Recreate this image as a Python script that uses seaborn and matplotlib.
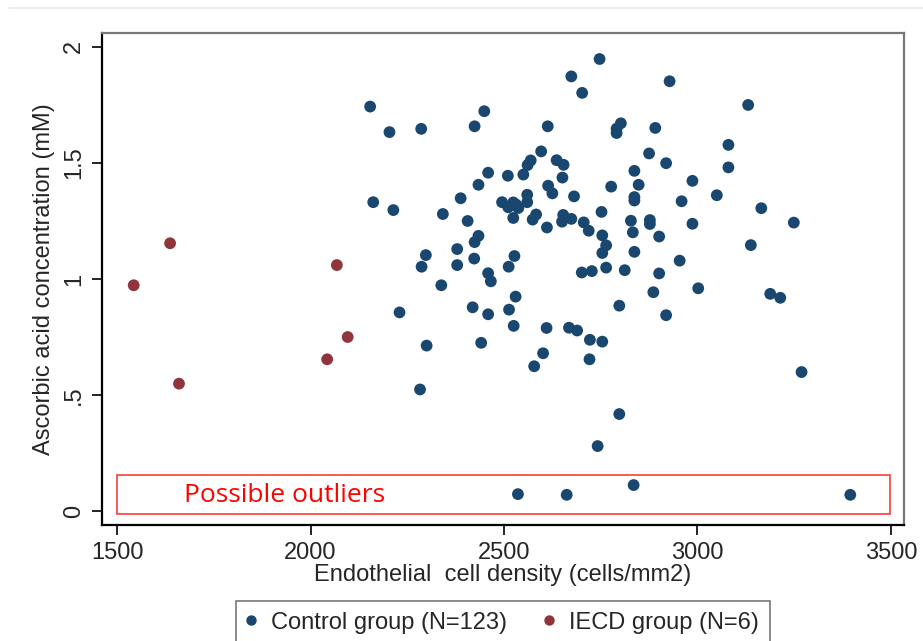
import numpy as np
import pandas as pd
import matplotlib
matplotlib.use('Agg')
import matplotlib.pyplot as plt
import seaborn as sns
from matplotlib.lines import Line2D
from matplotlib.patches import Rectangle


# control group, values
control_ecd = [2154, 2204, 2286, 2162, 2214, 2342, 2388, 2379, 2379, 2298,
               2287, 2338, 2230, 2300, 2283, 2747, 2674, 2702, 2928, 3131,
               2449, 2424, 2613, 2802, 2791, 2791, 2891, 3080, 3080, 2596,
               2875, 2919, 2636, 2654, 2569, 2561, 2459, 2510, 2550, 2651,
               2837, 2434, 2777, 2848, 2987, 2614, 2625, 2681, 2560, 2560,
               2495, 2511, 2524, 2537, 2524, 2837, 2837, 3050, 2959, 3165,
               2752, 2653, 2650, 2674, 2574, 2583, 2406, 2828, 2877, 2877,
               2987, 3249, 2611, 2706, 2719, 2833, 2754, 2764, 2754, 2901,
               2434, 2424, 3138, 2837, 2527, 2423, 2512, 2954, 2701, 2727,
               2764, 2812, 2459, 2466, 2901, 3002, 2886, 3188, 3214, 2530,
               2419, 2513, 2459, 2798, 2919, 2525, 2610, 2668, 2689, 2441,
               2722, 2754, 2601, 2578, 2721, 3269, 2798, 2742, 2536, 2662,
               2835, 3395, 2531]
control_aa = [1.743, 1.633, 1.647, 1.331, 1.297, 1.280, 1.348, 1.129, 1.060, 1.103,
              1.053, 0.973, 0.856, 0.713, 0.524, 1.948, 1.873, 1.802, 1.852, 1.750,
              1.723, 1.658, 1.658, 1.671, 1.648, 1.629, 1.651, 1.578, 1.481, 1.550,
              1.541, 1.499, 1.512, 1.492, 1.511, 1.491, 1.458, 1.445, 1.450, 1.437,
              1.466, 1.406, 1.398, 1.406, 1.423, 1.402, 1.369, 1.356, 1.363, 1.331,
              1.331, 1.309, 1.330, 1.306, 1.263, 1.353, 1.338, 1.361, 1.335, 1.305,
              1.289, 1.276, 1.247, 1.259, 1.256, 1.278, 1.250, 1.251, 1.254, 1.237,
              1.238, 1.243, 1.222, 1.244, 1.208, 1.201, 1.188, 1.145, 1.112, 1.183,
              1.186, 1.159, 1.146, 1.117, 1.099, 1.088, 1.053, 1.079, 1.028, 1.034,
              1.049, 1.038, 1.025, 0.990, 1.024, 0.960, 0.943, 0.936, 0.919, 0.924,
              0.878, 0.868, 0.848, 0.885, 0.844, 0.798, 0.789, 0.790, 0.778, 0.725,
              0.738, 0.730, 0.680, 0.624, 0.654, 0.599, 0.418, 0.280, 0.073, 0.070,
              0.112, 0.070, 1.321]

# IECD group
iecd_ecd = [1543, 1637, 2068, 1660, 2043, 2096]
iecd_aa = [0.973, 1.154, 1.060, 0.549, 0.654, 0.750]

group_names = ['Control group (N=123)', 'IECD group (N=6)']
group_colors = ['#1a476f', '#90353b']

x_ticks = [1500, 2000, 2500, 3000, 3500]
y_ticks = [0, 0.5, 1, 1.5, 2]
y_ticklabels = ['0', '.5', '1', '1.5', '2']

df = pd.DataFrame({
    'ecd': control_ecd + iecd_ecd,
    'aa': control_aa + iecd_aa,
    'group': [group_names[0]] * len(control_ecd) + [group_names[1]] * len(iecd_ecd),
})

sns.set_style('white')
plt.rcParams['font.family'] = ['Liberation Sans', 'DejaVu Sans']

fs = 17

fig = plt.figure(figsize=(9.23, 6.41), dpi=100)
ax = fig.add_axes([0.1105, 0.181, 0.869, 0.7675])

sns.scatterplot(data=df, x='ecd', y='aa', hue='group', hue_order=group_names,
                palette=group_colors, s=72, linewidth=0, legend=False, ax=ax,
                zorder=3)

ax.set_xlim(1461, 3534)
ax.set_ylim(-0.06, 2.06)
ax.set_xticks(x_ticks)
ax.set_yticks(y_ticks)
ax.set_yticklabels(y_ticklabels, rotation=90, va='center')
ax.tick_params(axis='both', direction='out', length=7, width=1.2, color='black',
               labelsize=fs, pad=5, left=True, bottom=True)

ax.set_xlabel('Endothelial  cell density (cells/mm2)', fontsize=fs, labelpad=0)
ax.set_ylabel('Ascorbic acid concentration (mM)', fontsize=fs, labelpad=6)

for side in ['left', 'bottom']:
    ax.spines[side].set_color('black')
    ax.spines[side].set_linewidth(1.6)
for side in ['top', 'right']:
    ax.spines[side].set_color('#777777')
    ax.spines[side].set_linewidth(1.6)

# outlier box
rect = Rectangle((1500, -0.013), 1997, 0.168, fill=False, edgecolor='#ff3b3b',
                 linewidth=1.2, zorder=2)
ax.add_patch(rect)
ax.text(1673, 0.066, 'Possible outliers', color='#ff0000', fontsize=19,
        family=['Open Sans', 'DejaVu Sans'], va='center', ha='left')

handles = [Line2D([0], [0], marker='o', color='none', markerfacecolor=c,
                  markeredgewidth=0, markersize=7.5) for c in group_colors]
leg = fig.legend(handles, group_names, loc='upper center', ncol=2,
                 bbox_to_anchor=(0.545, 0.081), fontsize=fs, frameon=True,
                 fancybox=False, edgecolor='#555555', handletextpad=0.7,
                 columnspacing=1.65, handlelength=0.3, borderpad=0.45)
leg.get_frame().set_linewidth(1.2)

fig.add_artist(Line2D([0.01, 1.0], [1 - 8 / 641] * 2, transform=fig.transFigure,
                      color='#e6ebee', linewidth=1.2))

fig.savefig('out.png', dpi=100, facecolor='white')
